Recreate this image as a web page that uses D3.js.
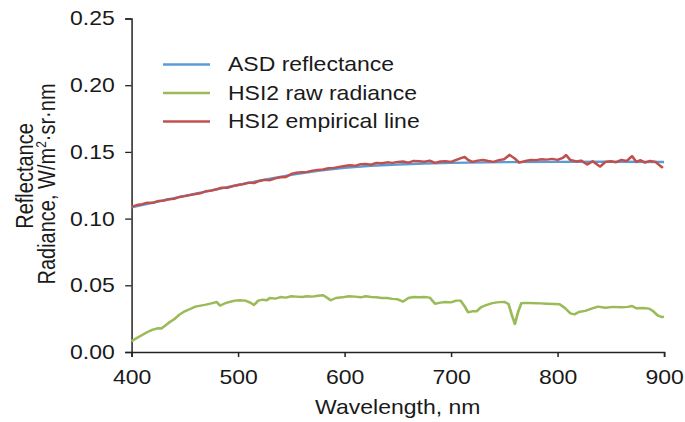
<!doctype html>
<html>
<head>
<meta charset="utf-8">
<script src="https://cdn.jsdelivr.net/npm/d3@7"></script>
<style>
  body { margin: 0; background: #fff; }
  svg text { font-family: "Liberation Sans", Arial, sans-serif; fill: #1a1a1a; }
</style>
</head>
<body>
<div id="chart"></div>
<script>
// ASD reflectance (smooth)
const asdWl  = [400, 425, 450, 475, 500, 525, 550, 575, 600, 625, 650, 675, 700, 750, 800, 850, 900];
const asdVal = [0.1085, 0.1128, 0.1170, 0.1212, 0.1252, 0.1292, 0.1328, 0.1358, 0.1381, 0.1396, 0.1406, 0.1413, 0.1418, 0.1423, 0.1425, 0.1426, 0.1424];

// HSI2 empirical line (noisy around ASD)
const empWl  = [400, 405, 410, 415, 420, 425, 430, 435, 440, 445, 450, 455, 460, 465, 470, 475, 480, 485, 490, 495,
                500, 505, 510, 515, 520, 525, 530, 535, 540, 545, 550, 555, 560, 565, 570, 575, 580, 585, 590, 595,
                600, 605, 610, 615, 620, 625, 630, 635, 640, 645, 650, 655, 660, 665, 670, 675, 680, 685, 690, 695,
                700, 705, 710, 713, 716, 720, 725, 730, 735, 740, 745, 750, 755, 760, 764, 770, 775, 780, 785, 790,
                795, 800, 805, 808, 812, 818, 822, 828, 833, 840, 845, 850, 855, 860, 865, 870, 874, 878, 882, 887,
                892, 896, 899];
const empVal = [0.1088, 0.1102, 0.1108, 0.1120, 0.1118, 0.1132, 0.1135, 0.1145, 0.1148, 0.1162, 0.1168, 0.1176, 0.1184, 0.1190, 0.1205, 0.1210, 0.1220, 0.1232, 0.1230, 0.1244,
                0.1252, 0.1258, 0.1270, 0.1266, 0.1282, 0.1290, 0.1288, 0.1302, 0.1310, 0.1312, 0.1335, 0.1345, 0.1348, 0.1350, 0.1360, 0.1365, 0.1368, 0.1378, 0.1380, 0.1388,
                0.1394, 0.1400, 0.1396, 0.1408, 0.1410, 0.1404, 0.1418, 0.1415, 0.1422, 0.1418, 0.1425, 0.1428, 0.1420, 0.1432, 0.1430, 0.1426, 0.1434, 0.1418, 0.1428, 0.1430,
                0.1425, 0.1440, 0.1455, 0.1462, 0.1440, 0.1425, 0.1435, 0.1440, 0.1432, 0.1425, 0.1438, 0.1445, 0.1478, 0.1450, 0.1420, 0.1432, 0.1440, 0.1438, 0.1445, 0.1442,
                0.1448, 0.1440, 0.1455, 0.1476, 0.1440, 0.1428, 0.1435, 0.1405, 0.1430, 0.1390, 0.1425, 0.1430, 0.1422, 0.1440, 0.1432, 0.1468, 0.1425, 0.1438, 0.1420, 0.1432,
                0.1425, 0.1398, 0.1380];

// HSI2 raw radiance
const rawWl  = [400, 405, 410, 415, 420, 425, 428, 432, 436, 440, 445, 450, 455, 460, 465, 470, 475, 480, 483, 487,
                492, 497, 502, 507, 512, 515, 519, 523, 527, 530, 535, 540, 545, 550, 555, 560, 565, 570, 575, 580,
                584, 587, 592, 598, 604, 610, 615, 620, 625, 630, 635, 640, 645, 650, 655, 660, 665, 670, 675, 680,
                685, 690, 695, 700, 705, 709, 713, 716, 720, 724, 728, 733, 738, 743, 750, 754, 757, 760, 763, 766,
                770, 780, 790, 797, 802, 807, 812, 816, 820, 826, 832, 838, 845, 852, 860, 866, 870, 874, 880, 886,
                890, 894, 898, 900];
const rawVal = [0.0080, 0.0105, 0.0128, 0.0150, 0.0168, 0.0178, 0.0176, 0.0200, 0.0225, 0.0245, 0.0280, 0.0305, 0.0322, 0.0340, 0.0348, 0.0355, 0.0365, 0.0375, 0.0348, 0.0362,
                0.0375, 0.0385, 0.0388, 0.0385, 0.0368, 0.0352, 0.0385, 0.0392, 0.0388, 0.0405, 0.0400, 0.0412, 0.0408, 0.0418, 0.0415, 0.0412, 0.0418, 0.0415, 0.0422, 0.0425,
                0.0405, 0.0388, 0.0405, 0.0410, 0.0418, 0.0415, 0.0410, 0.0418, 0.0412, 0.0410, 0.0405, 0.0405, 0.0398, 0.0395, 0.0378, 0.0405, 0.0412, 0.0410, 0.0412, 0.0408,
                0.0362, 0.0370, 0.0375, 0.0372, 0.0385, 0.0385, 0.0340, 0.0298, 0.0305, 0.0305, 0.0335, 0.0352, 0.0365, 0.0372, 0.0376, 0.0360, 0.0280, 0.0210, 0.0300, 0.0365,
                0.0368, 0.0366, 0.0362, 0.0360, 0.0358, 0.0330, 0.0290, 0.0282, 0.0300, 0.0308, 0.0325, 0.0340, 0.0332, 0.0338, 0.0335, 0.0338, 0.0345, 0.0328, 0.0330, 0.0325,
                0.0305, 0.0275, 0.0262, 0.0265];

const xTicks = [400, 500, 600, 700, 800, 900];
const yTicks = [0, 0.05, 0.10, 0.15, 0.20, 0.25];
const seriesNames = ["ASD reflectance", "HSI2 raw radiance", "HSI2 empirical line"];
const colors = ["#5b9bd5", "#9bbb59", "#c0504d"];

// the reference is a little wider than tall, so draw in a narrower box and stretch it
const W = 685, H = 422, sx = 1.15;
const VW = W / sx;
const FS = 20;

const svg = d3.select("#chart").append("svg")
  .attr("width", W).attr("height", H)
  .attr("viewBox", `0 0 ${VW} ${H}`)
  .attr("preserveAspectRatio", "none");

const x = d3.scaleLinear().domain([400, 900]).range([131.5 / sx, 664 / sx]);
const y = d3.scaleLinear().domain([0, 0.25]).range([352, 18.5]);

const xAxis = svg.append("g").attr("transform", `translate(0,${y(0)})`)
  .call(d3.axisBottom(x).tickValues(xTicks).tickSize(5).tickFormat(d3.format("d")));
const yAxis = svg.append("g").attr("transform", `translate(${x(400)},0)`)
  .call(d3.axisLeft(y).tickValues(yTicks).tickSize(5.5).tickPadding(9).tickFormat(d3.format(".2f")));

[xAxis, yAxis].forEach(g => {
  g.select(".domain").attr("stroke", "#222").attr("stroke-width", 1.3);
  g.selectAll(".tick line").attr("stroke", "#222").attr("stroke-width", 1.3);
  g.selectAll(".tick text").attr("font-size", FS).attr("fill", "#1a1a1a")
    .attr("font-family", "'Liberation Sans', Arial, sans-serif");
});
xAxis.selectAll(".tick text").attr("y", 32).attr("dy", 0);

const line = d3.line().x(d => x(d[0])).y(d => y(d[1]));
const series = [
  d3.zip(asdWl, asdVal),
  d3.zip(rawWl, rawVal),
  d3.zip(empWl, empVal)
];
// draw order: green, blue, red on top
[1, 0, 2].forEach(i => {
  svg.append("path").datum(series[i])
    .attr("fill", "none").attr("stroke", colors[i]).attr("stroke-width", 2.4)
    .attr("stroke-linejoin", "round")
    .attr("d", line);
});

// legend
const legend = svg.append("g");
seriesNames.forEach((name, i) => {
  const ly = 64.5 + i * 28.5;
  legend.append("line").attr("x1", 163 / sx).attr("x2", 210 / sx).attr("y1", ly).attr("y2", ly)
    .attr("stroke", colors[i]).attr("stroke-width", 2.4);
  legend.append("text").attr("x", 228 / sx).attr("y", ly).attr("dy", "0.35em")
    .attr("font-size", FS).text(name);
});

// axis titles
svg.append("text").attr("x", (x(400) + x(900)) / 2).attr("y", 414)
  .attr("text-anchor", "middle").attr("font-size", FS).text("Wavelength, nm");

const yt = svg.append("text").attr("transform", `translate(${33 / sx},176) rotate(-90)`)
  .attr("text-anchor", "middle").attr("font-size", FS);
yt.append("tspan").attr("x", 0).attr("y", 0).text("Reflectance");
const yt2 = svg.append("text").attr("transform", `translate(${55 / sx},184) rotate(-90)`)
  .attr("text-anchor", "middle").attr("font-size", FS);
yt2.append("tspan").text("Radiance, W/m");
yt2.append("tspan").attr("dy", -7.5).attr("font-size", 12).text("2");
yt2.append("tspan").attr("dy", 7.5).text("·sr·nm");
</script>
</body>
</html>
